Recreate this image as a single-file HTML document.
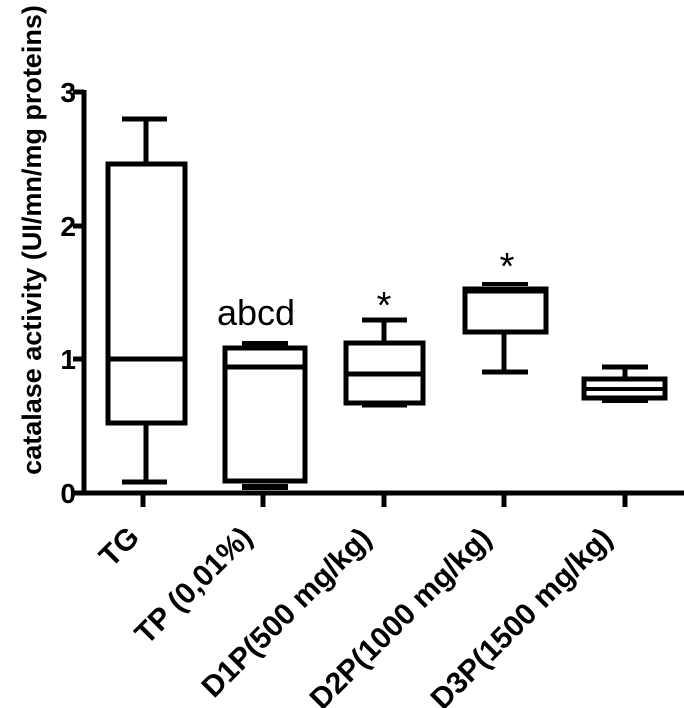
<!DOCTYPE html>
<html><head><style>body{margin:0;background:#fff}svg{display:block}</style></head>
<body>
<svg width="684" height="708" viewBox="0 0 684 708" xmlns="http://www.w3.org/2000/svg" font-family="Liberation Sans, Arial, sans-serif">
<g stroke="#000" stroke-width="5" fill="none">
<line x1="84" y1="90" x2="84" y2="495"/>
<line x1="82" y1="493" x2="684" y2="493"/>
<line x1="73" y1="92" x2="84" y2="92"/>
<line x1="73" y1="226" x2="84" y2="226"/>
<line x1="73" y1="359" x2="84" y2="359"/>
<line x1="73" y1="493" x2="84" y2="493"/>
<line x1="143" y1="493" x2="143" y2="507"/>
<line x1="263" y1="493" x2="263" y2="507"/>
<line x1="384" y1="493" x2="384" y2="507"/>
<line x1="504" y1="493" x2="504" y2="507"/>
<line x1="625" y1="493" x2="625" y2="507"/>
<rect x="108" y="164" width="77" height="259"/>
<line x1="108" y1="359" x2="185" y2="359"/>
<line x1="146" y1="164" x2="146" y2="119"/><line x1="122" y1="119" x2="167" y2="119"/>
<line x1="146" y1="423" x2="146" y2="482"/><line x1="122" y1="482" x2="167" y2="482"/>
<rect x="225" y="348" width="80" height="133"/>
<line x1="225" y1="367" x2="305" y2="367"/>
<line x1="242" y1="344" x2="288" y2="344" stroke-width="6"/>
<line x1="242" y1="487" x2="288" y2="487" stroke-width="6"/>
<rect x="346" y="343" width="77" height="60"/>
<line x1="346" y1="374" x2="423" y2="374"/>
<line x1="384" y1="343" x2="384" y2="320"/><line x1="362" y1="320" x2="407" y2="320"/>
<line x1="362" y1="405" x2="407" y2="405"/>
<rect x="465" y="289" width="81" height="43" />
<line x1="465" y1="291" x2="546" y2="291"/>
<line x1="482" y1="284" x2="528" y2="284" stroke-width="4"/>
<line x1="504" y1="332" x2="504" y2="372"/><line x1="482" y1="372" x2="528" y2="372"/>
<rect x="584" y="379" width="81" height="19"/>
<line x1="584" y1="389" x2="665" y2="389" stroke-width="4"/>
<line x1="625" y1="379" x2="625" y2="367"/><line x1="602" y1="367" x2="648" y2="367"/>
<line x1="602" y1="401" x2="648" y2="401" stroke-width="4"/>
</g>
<g font-weight="bold" font-size="28" text-anchor="end">
<text x="76" y="102">3</text>
<text x="76" y="236">2</text>
<text x="76" y="369">1</text>
<text x="76" y="503">0</text>
</g>
<text transform="translate(41,240) rotate(-90)" text-anchor="middle" font-weight="bold" font-size="27">catalase activity (UI/mn/mg proteins)</text>
<text x="256" y="325" text-anchor="middle" font-size="36">abcd</text>
<text x="384" y="318" text-anchor="middle" font-size="38">*</text>
<text x="507" y="279" text-anchor="middle" font-size="38">*</text>
<g font-weight="bold" font-size="30" text-anchor="end">
<text transform="translate(141,539) rotate(-45)">TG</text>
<text transform="translate(254,539) rotate(-45)">TP (0,01%)</text>
<text transform="translate(373,540) rotate(-45)">D1P(500 mg/kg)</text>
<text transform="translate(493,540) rotate(-45)">D2P(1000 mg/kg)</text>
<text transform="translate(614,540) rotate(-45)">D3P(1500 mg/kg)</text>
</g>
</svg>
</body></html>
